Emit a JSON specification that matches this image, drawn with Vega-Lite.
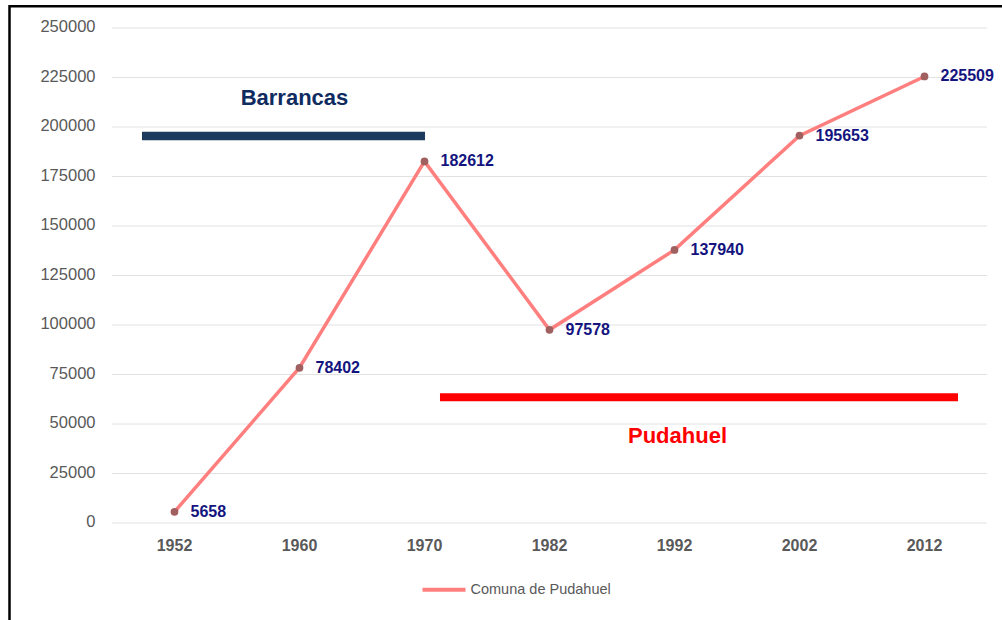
{
  "$schema": "https://vega.github.io/schema/vega-lite/v6.json",
  "width": 996,
  "height": 618,
  "autosize": {"type": "none"},
  "padding": {"left": 9.5, "top": 6.25, "right": 0, "bottom": 0},
  "background": "white",
  "config": {
    "view": {"stroke": "black", "strokeWidth": 2.5},
    "font": "Liberation Sans"
  },
  "datasets": {
    "poblacion": [
      {"anio": "1952", "habitantes": 5658, "serie": "Comuna de Pudahuel"},
      {"anio": "1960", "habitantes": 78402, "serie": "Comuna de Pudahuel"},
      {"anio": "1970", "habitantes": 182612, "serie": "Comuna de Pudahuel"},
      {"anio": "1982", "habitantes": 97578, "serie": "Comuna de Pudahuel"},
      {"anio": "1992", "habitantes": 137940, "serie": "Comuna de Pudahuel"},
      {"anio": "2002", "habitantes": 195653, "serie": "Comuna de Pudahuel"},
      {"anio": "2012", "habitantes": 225509, "serie": "Comuna de Pudahuel"}
    ],
    "grilla": [
      {"valor": 0}, {"valor": 25000}, {"valor": 50000}, {"valor": 75000},
      {"valor": 100000}, {"valor": 125000}, {"valor": 150000}, {"valor": 175000},
      {"valor": 200000}, {"valor": 225000}, {"valor": 250000}
    ],
    "periodos": [
      {"periodo": "Barrancas", "desde": "1952", "hasta": "1970", "nivel": 195500, "anio_texto": "1960", "nivel_texto": 211300},
      {"periodo": "Pudahuel", "desde": "1970", "hasta": "2012", "nivel": 63500, "anio_texto": "1992", "nivel_texto": 40600}
    ]
  },
  "layer": [
    {
      "data": {"name": "grilla"},
      "mark": {"type": "rule", "color": "#E2E2E2", "strokeWidth": 1},
      "encoding": {
        "y": {"field": "valor", "type": "quantitative", "title": null,
              "scale": {"domain": [-51136, 260985], "nice": false, "zero": false}},
        "x": {"datum": "1952", "type": "ordinal", "bandPosition": 0, "title": null,
              "scale": {"domain": ["1952","1960","1970","1982","1992","2002","2012"], "paddingInner": 0, "paddingOuter": 0.484, "align": 0.847}},
        "x2": {"datum": "2012", "bandPosition": 1}
      }
    },
    {
      "data": {"name": "poblacion"},
      "mark": {"type": "line", "strokeWidth": 3.5},
      "encoding": {
        "x": {"field": "anio", "type": "ordinal", "title": null,
              "scale": {"domain": ["1952","1960","1970","1982","1992","2002","2012"], "paddingInner": 0, "paddingOuter": 0.484, "align": 0.847},
              "axis": {"labelAngle": 0, "domain": false, "ticks": false, "tickSize": 0, "grid": false,
                       "bandPosition": 0.5, "labelAlign": "center",
                       "offset": -101.25, "labelPadding": 22, "labelFont": "Liberation Sans",
                       "labelFontSize": 16, "labelFontWeight": "bold", "labelColor": "#595959"}},
        "y": {"field": "habitantes", "type": "quantitative", "title": null,
              "scale": {"domain": [-51136, 260985], "nice": false, "zero": false},
              "axis": {"values": [0,25000,50000,75000,100000,125000,150000,175000,200000,225000,250000],
                       "format": "d", "grid": false, "domain": false, "ticks": false, "tickSize": 0,
                       "offset": -102.5, "labelPadding": 17, "labelOffset": -1.5,
                       "labelFont": "Liberation Sans", "labelFontSize": 16.5, "labelColor": "#595959"}},
        "color": {"field": "serie", "type": "nominal",
                  "scale": {"range": ["#FF7F7F"]},
                  "legend": {"orient": "none", "legendX": 411, "legendY": 560, "title": null,
                             "symbolType": "stroke", "symbolSize": 1849, "symbolStrokeWidth": 4,
                             "padding": 0, "labelOffset": 3,
                             "labelFont": "Liberation Sans", "labelFontSize": 14.5, "labelColor": "#595959"}}
      }
    },
    {
      "data": {"name": "poblacion"},
      "mark": {"type": "point", "filled": true, "size": 60, "color": "#A0605F", "opacity": 1},
      "encoding": {
        "x": {"field": "anio", "type": "ordinal", "title": null},
        "y": {"field": "habitantes", "type": "quantitative", "title": null}
      }
    },
    {
      "data": {"name": "poblacion"},
      "mark": {"type": "text", "align": "left", "baseline": "middle", "dx": 16,
               "font": "Liberation Sans", "fontSize": 16, "fontWeight": "bold", "color": "#14147F"},
      "encoding": {
        "x": {"field": "anio", "type": "ordinal", "title": null},
        "y": {"field": "habitantes", "type": "quantitative", "title": null},
        "text": {"field": "habitantes", "type": "quantitative", "format": "d"}
      }
    },
    {
      "data": {"name": "periodos"},
      "transform": [{"filter": "datum.periodo === 'Barrancas'"}],
      "mark": {"type": "rule", "color": "#1D3A5F", "strokeWidth": 8.5, "strokeCap": "butt"},
      "encoding": {
        "x": {"field": "desde", "type": "ordinal", "bandPosition": 0.24, "title": null},
        "x2": {"field": "hasta", "bandPosition": 0.504},
        "y": {"field": "nivel", "type": "quantitative", "title": null}
      }
    },
    {
      "data": {"name": "periodos"},
      "transform": [{"filter": "datum.periodo === 'Pudahuel'"}],
      "mark": {"type": "rule", "color": "#FF0000", "strokeWidth": 8, "strokeCap": "butt"},
      "encoding": {
        "x": {"field": "desde", "type": "ordinal", "bandPosition": 0.624, "title": null},
        "x2": {"field": "hasta", "bandPosition": 0.768},
        "y": {"field": "nivel", "type": "quantitative", "title": null}
      }
    },
    {
      "data": {"name": "periodos"},
      "transform": [{"filter": "datum.periodo === 'Barrancas'"}],
      "mark": {"type": "text", "align": "center", "baseline": "alphabetic",
               "font": "Liberation Sans", "fontSize": 22, "fontWeight": "bold", "color": "#0F2B5F"},
      "encoding": {
        "x": {"field": "anio_texto", "type": "ordinal", "bandPosition": 0.46, "title": null},
        "y": {"field": "nivel_texto", "type": "quantitative", "title": null},
        "text": {"field": "periodo", "type": "nominal"}
      }
    },
    {
      "data": {"name": "periodos"},
      "transform": [{"filter": "datum.periodo === 'Pudahuel'"}],
      "mark": {"type": "text", "align": "center", "baseline": "alphabetic",
               "font": "Liberation Sans", "fontSize": 22, "fontWeight": "bold", "color": "#FF0000"},
      "encoding": {
        "x": {"field": "anio_texto", "type": "ordinal", "bandPosition": 0.524, "title": null},
        "y": {"field": "nivel_texto", "type": "quantitative", "title": null},
        "text": {"field": "periodo", "type": "nominal"}
      }
    }
  ]
}
